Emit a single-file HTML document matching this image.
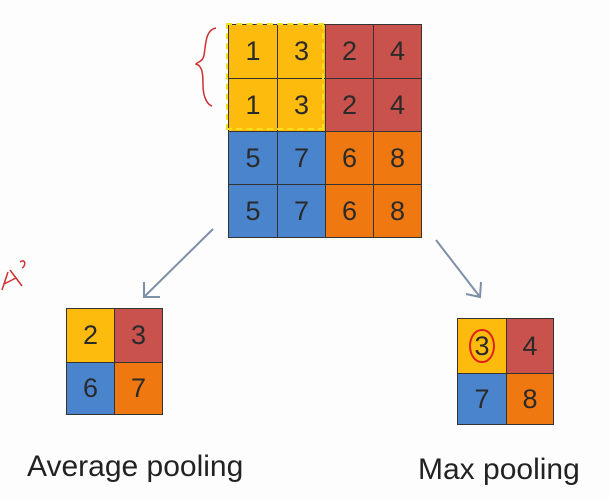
<!DOCTYPE html>
<html><head><style>
body{margin:0;width:610px;height:500px;background:#fdfdfd;position:relative;overflow:hidden;font-family:"Liberation Sans",sans-serif}
.c{position:absolute;box-sizing:border-box;border:1px solid #333;display:flex;align-items:center;justify-content:center;font-size:27px;color:#2a2a2a}
.y{background:#fdbb0e}.r{background:#c9524c}.b{background:#4a84cc}.o{background:#ef7810}
.t{position:absolute;font-size:30px;color:#222;white-space:nowrap}
</style></head><body>
<div class="c y" style="left:228px;top:24px;width:50px;height:55px">1</div>
<div class="c y" style="left:277px;top:24px;width:49px;height:55px">3</div>
<div class="c r" style="left:325px;top:24px;width:49px;height:55px">2</div>
<div class="c r" style="left:373px;top:24px;width:49px;height:55px">4</div>
<div class="c y" style="left:228px;top:78px;width:50px;height:54px">1</div>
<div class="c y" style="left:277px;top:78px;width:49px;height:54px">3</div>
<div class="c r" style="left:325px;top:78px;width:49px;height:54px">2</div>
<div class="c r" style="left:373px;top:78px;width:49px;height:54px">4</div>
<div class="c b" style="left:228px;top:131px;width:50px;height:54px">5</div>
<div class="c b" style="left:277px;top:131px;width:49px;height:54px">7</div>
<div class="c o" style="left:325px;top:131px;width:49px;height:54px">6</div>
<div class="c o" style="left:373px;top:131px;width:49px;height:54px">8</div>
<div class="c b" style="left:228px;top:184px;width:50px;height:54px">5</div>
<div class="c b" style="left:277px;top:184px;width:49px;height:54px">7</div>
<div class="c o" style="left:325px;top:184px;width:49px;height:54px">6</div>
<div class="c o" style="left:373px;top:184px;width:49px;height:54px">8</div>
<div style="position:absolute;left:226px;top:23px;width:98px;height:107px;border:2px dashed #f5e020;box-sizing:border-box"></div>
<div class="c y" style="left:66px;top:308px;width:49px;height:55px">2</div>
<div class="c r" style="left:114px;top:308px;width:49px;height:55px">3</div>
<div class="c b" style="left:66px;top:362px;width:49px;height:53px">6</div>
<div class="c o" style="left:114px;top:362px;width:49px;height:53px">7</div>
<div class="c y" style="left:457px;top:318px;width:50px;height:56px"><span style="border:2px solid #e0201a;border-radius:50%;padding:0 3px;line-height:30px">3</span></div>
<div class="c r" style="left:506px;top:318px;width:48px;height:56px">4</div>
<div class="c b" style="left:457px;top:373px;width:50px;height:52px">7</div>
<div class="c o" style="left:506px;top:373px;width:48px;height:52px">8</div>
<svg width="610" height="500" style="position:absolute;left:0;top:0">
<g stroke="#7e8fa8" stroke-width="2" fill="none">
<line x1="213" y1="229" x2="144" y2="297"/><polyline points="144,282 144,297 160,297"/>
<line x1="436" y1="240" x2="480" y2="297"/><polyline points="466,294 480,297 481,282"/>
</g>
<g stroke="#d03030" stroke-width="1.5" fill="none">
<path d="M216,28 C205,30 206,45 204,55 C203,62 197,62 196,64 C202,66 203,72 203,85 C203,98 208,105 212,106"/>
<path d="M2,290 L8,272 M4,284 L16,278 M10,270 L22,286 M20,262 C26,258 26,266 22,268"/>
</g>
</svg>
<div class="t" style="left:27px;top:450px">Average pooling</div>
<div class="t" style="left:418px;top:453px">Max pooling</div>
</body></html>
